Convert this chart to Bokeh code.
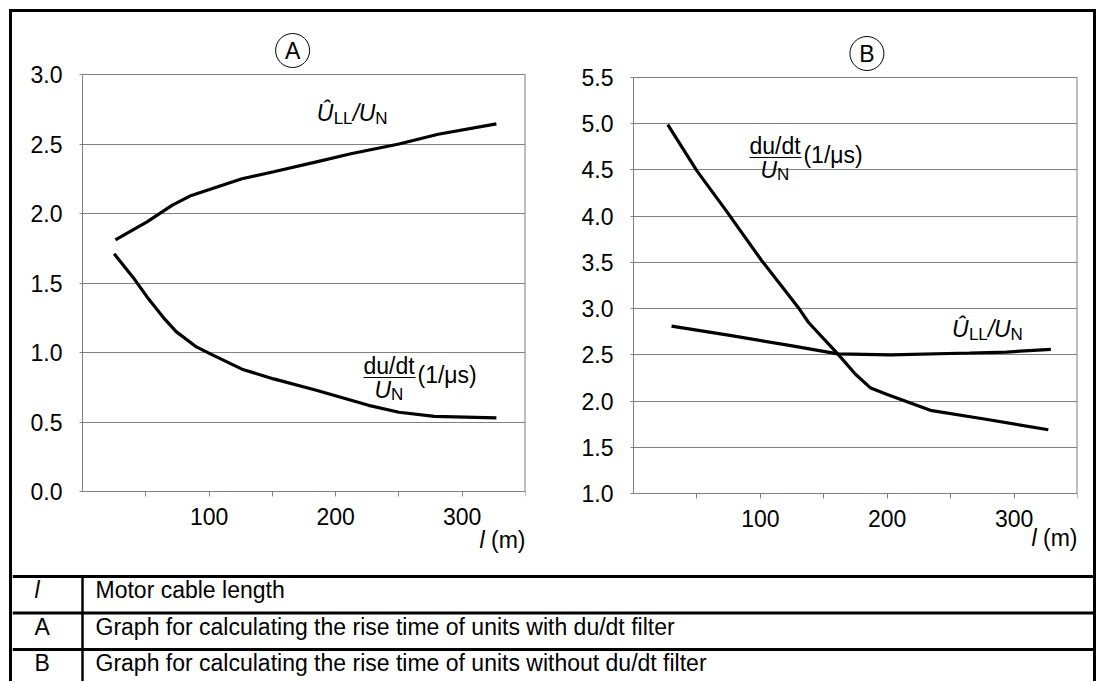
from bokeh.plotting import figure
from bokeh.layouts import column, row
from bokeh.models import FixedTicker, Label, Range1d, ColumnDataSource, PrintfTickFormatter
from bokeh.embed import file_html
from bokeh.resources import INLINE
from bokeh.core.properties import value

FONT = "Liberation Sans"
GRAY = "#808080"

# ---------------- data ----------------
# Chart A: units with du/dt filter
a_len_u = [26, 51, 71, 86, 126, 151, 184, 212, 250, 281, 327]
a_u_ll = [1.81, 1.94, 2.06, 2.13, 2.25, 2.30, 2.37, 2.43, 2.50, 2.57, 2.645]
a_len_du = [25, 40, 51, 65, 74, 90, 101, 126, 151, 184, 226, 250, 278, 327]
a_du_dt = [1.71, 1.54, 1.40, 1.24, 1.15, 1.04, 0.99, 0.88, 0.81, 0.73, 0.62, 0.57, 0.54, 0.53]

# Chart B: units without du/dt filter
b_len_du = [27, 50, 73, 101, 130, 138, 161, 175, 187, 200, 234, 279, 327]
b_du_dt = [4.99, 4.49, 4.06, 3.52, 3.01, 2.85, 2.51, 2.29, 2.14, 2.07, 1.90, 1.80, 1.69]
b_len_u = [30, 76, 124, 161, 203, 265, 294, 329]
b_u_ll = [2.81, 2.71, 2.60, 2.51, 2.50, 2.52, 2.53, 2.56]

X_MAX = 350
x_ticks = [100, 200, 300]
x_minor_ticks = [50, 150, 250, 350]
a_y_ticks = [0.0, 0.5, 1.0, 1.5, 2.0, 2.5, 3.0]
b_y_ticks = [1.0, 1.5, 2.0, 2.5, 3.0, 3.5, 4.0, 4.5, 5.0, 5.5]

tbl_keys = ["l", "A", "B"]
tbl_key_style = ["italic", "normal", "normal"]
tbl_desc = ["Motor cable length",
            "Graph for calculating the rise time of units with du/dt filter",
            "Graph for calculating the rise time of units without du/dt filter"]

# ---------------- layout constants ----------------
ROW_H = 562
TOP_PAD = 5
MID = 0.3465  # distance from alphabetic baseline to the middle of the em box (em units)


def lab(p, x, y, text, dx=0, dy=0, size=23, style="normal", align="left"):
    """dx, dy: offset of the text baseline in pixels (dy positive = down)."""
    p.add_layout(Label(x=x, y=y, x_offset=dx, y_offset=-dy + MID * size, text=text,
                       text_font=FONT, text_font_size=f"{size}px",
                       text_font_style=style, text_align=align,
                       text_baseline="middle", text_color="black"))


def make_chart(width, left, frame_w, top_px, plot_h, bottom_px, yticks, letter, letter_dx, xlab_dy):
    ymin, ymax = yticks[0], yticks[-1]
    px_y = plot_h / (ymax - ymin)
    p = figure(width=width, height=ROW_H, output_backend="svg", toolbar_location=None,
               x_range=Range1d(0, X_MAX),
               y_range=Range1d(ymin - bottom_px / px_y, ymax + top_px / px_y),
               min_border_left=left, min_border_right=width - left - frame_w,
               min_border_top=TOP_PAD, min_border_bottom=0)
    p.outline_line_color = None
    p.background_fill_color = "white"
    p.border_fill_color = "white"
    p.xgrid.visible = False
    p.ygrid.grid_line_color = GRAY
    p.ygrid.grid_line_width = 1

    xa = p.xaxis[0]
    xa.fixed_location = ymin
    xa.ticker = FixedTicker(ticks=x_ticks, minor_ticks=x_minor_ticks)
    xa.bounds = (0, X_MAX)
    xa.axis_line_color = GRAY
    xa.major_tick_in = 0
    xa.major_tick_out = 5
    xa.minor_tick_in = 0
    xa.minor_tick_out = 5
    xa.major_tick_line_color = GRAY
    xa.minor_tick_line_color = GRAY
    xa.major_label_text_font = FONT
    xa.major_label_text_font_size = "23px"
    xa.major_label_text_color = "black"
    xa.major_label_standoff = 11

    ya = p.yaxis[0]
    ya.ticker = FixedTicker(ticks=yticks, minor_ticks=[])
    ya.bounds = (ymin, ymax)
    ya.formatter = PrintfTickFormatter(format="%.1f")
    ya.axis_line_color = GRAY
    ya.major_tick_in = 0
    ya.major_tick_out = 3
    ya.major_tick_line_color = GRAY
    ya.minor_tick_line_color = None
    ya.major_label_text_font = FONT
    ya.major_label_text_font_size = "23px"
    ya.major_label_text_color = "black"
    ya.major_label_standoff = 17

    # right edge of the plot area
    p.segment(x0=[X_MAX], y0=[ymin], x1=[X_MAX], y1=[ymax], line_color=GRAY, line_width=2)

    # circled letter above the plot area
    cy = ymax + 24 / px_y
    p.scatter(x=[letter_dx], y=[cy], marker="circle", size=34, fill_color=None,
              line_color="black", line_width=1)
    p.text(x=[letter_dx], y=[cy], text=[letter], text_align="center", text_baseline="middle",
           text_font=value(FONT), text_font_size="23px", text_color="black")

    # x axis quantity label "l (m)"
    lab(p, X_MAX, ymin, "(m)", dx=0, dy=xlab_dy, align="right")
    lab(p, X_MAX, ymin, "l", dx=-41, dy=xlab_dy, style="italic", align="right")
    return p, px_y


def u_label(p, x, y):
    lab(p, x, y, "\u00db", style="italic")
    lab(p, x, y, "LL", dx=17, dy=3, size=17)
    lab(p, x, y, "/", dx=36, style="italic")
    lab(p, x, y, "U", dx=42, style="italic")
    lab(p, x, y, "N", dx=58.5, dy=3, size=17)


def dudt_label(p, x, y, px_x, px_y):
    lab(p, x, y, "du/dt")
    p.segment(x0=[x], y0=[y - 4 / px_y], x1=[x + 52 / px_x], y1=[y - 4 / px_y],
              line_color="black", line_width=1.2)
    lab(p, x, y, "U", dx=11, dy=24, style="italic")
    lab(p, x, y, "N", dx=27.5, dy=27, size=17)
    lab(p, x, y, "(1/\u03bcs)", dx=54, dy=9)


# ---------------- chart A ----------------
A_W, A_LEFT, A_FW = 549, 70, 443
pa, a_px_y = make_chart(A_W, A_LEFT, A_FW, 57, 417, 83, a_y_ticks, "A", 166, 56)
pa.line(a_len_u, a_u_ll, line_color="black", line_width=3.2)
pa.line(a_len_du, a_du_dt, line_color="black", line_width=3.2)
u_label(pa, 185, 2.664)
dudt_label(pa, 222, 0.849, A_FW / X_MAX, a_px_y)

# ---------------- chart B ----------------
B_W, B_LEFT, B_FW = 532, 72, 444
pb, b_px_y = make_chart(B_W, B_LEFT, B_FW, 60, 416, 81, b_y_ticks, "B", 184, 52)
pb.line(b_len_du, b_du_dt, line_color="black", line_width=3.2)
pb.line(b_len_u, b_u_ll, line_color="black", line_width=3.2)
u_label(pb, 251, 2.69)
dudt_label(pb, 91.4, 4.678, B_FW / X_MAX, b_px_y)

# ---------------- key table ----------------
T_W, T_H = 1081, 107
T_ROW_H = 36.5
T_TOP = 2
KEY_COL_W = 70
pt = figure(width=T_W, height=T_H, output_backend="svg", toolbar_location=None,
            x_range=Range1d(0, T_W), y_range=Range1d(T_H, 0),
            x_axis_type=None, y_axis_type=None, min_border=0)
pt.outline_line_color = None
pt.xgrid.visible = False
pt.ygrid.visible = False

n = len(tbl_keys)
row_tops = [T_TOP + i * T_ROW_H for i in range(n)]
pt.segment(x0=[0] * n, x1=[T_W] * n, y0=row_tops, y1=row_tops, line_color="black", line_width=3)
pt.segment(x0=[KEY_COL_W], x1=[KEY_COL_W], y0=[T_TOP], y1=[T_H], line_color="black", line_width=2.5)
src = ColumnDataSource(dict(
    key=tbl_keys, style=tbl_key_style, desc=tbl_desc,
    key_x=[22] * n, desc_x=[KEY_COL_W + 13] * n,
    mid=[t + 21.5 - MID * 23 for t in row_tops],
))
pt.text(x="key_x", y="mid", text="key", source=src, text_font=value(FONT),
        text_font_size="23px", text_font_style="style", text_baseline="middle",
        text_color="black")
pt.text(x="desc_x", y="mid", text="desc", source=src, text_font=value(FONT),
        text_font_size="23px", text_baseline="middle", text_color="black")

layout = column(row(pa, pb), pt, margin=(9, 0, 0, 9),
                styles={"border-top": "3px solid black", "border-left": "3px solid black",
                        "border-right": "3px solid black"})

open("out.html", "w").write(file_html(layout, INLINE))
